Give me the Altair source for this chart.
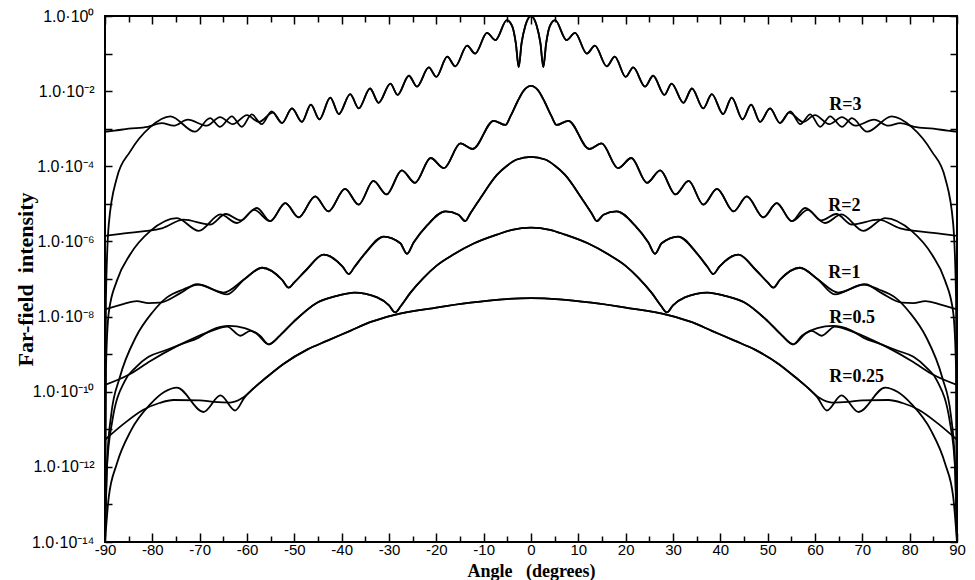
import altair as alt
import pandas as pd

# Values: (angle in degrees, log10 of far-field intensity)
# for the right half 0..90 deg; the figure is mirror-symmetric about 0 deg.
# "flat" = curve that levels off at +-90 deg, "cos" = curve that falls to zero at +-90 deg.
r3_core = [(0, 0.0), (1.2, -0.26), (2.0, -0.73), (2.6, -1.36), (3.2, -0.73), (4.0, -0.26),
           (5.1, -0.11), (7.5, -0.64), (9.3, -0.45), (11.8, -1.00), (13.5, -0.79), (16.0, -1.34),
           (17.7, -1.08), (20.0, -1.62), (21.6, -1.37), (24.1, -1.88), (25.8, -1.59), (28.2, -2.10),
           (29.7, -1.80), (32.2, -2.31), (34.0, -1.93), (36.4, -2.46), (38.2, -2.08), (40.6, -2.61),
           (42.4, -2.17), (44.7, -2.75), (46.5, -2.36), (48.4, -2.82), (50.5, -2.46), (52.6, -2.85)]
r3_flat_tail = [(54.5, -2.57), (57.5, -2.82), (60.0, -2.64), (63.0, -2.88), (65.7, -2.69),
                (68.5, -2.92), (72.5, -2.76), (75.5, -2.92), (78.0, -2.85), (81.0, -2.95),
                (85.0, -3.00), (88.0, -3.05), (90.0, -3.08)]
r3_cos_tail = [(54.8, -2.54), (56.9, -2.88), (59.0, -2.62), (61.1, -2.95), (63.2, -2.67),
               (65.7, -2.95), (67.8, -2.72), (71.0, -3.08), (76.2, -2.67), (80.4, -2.95),
               (84.7, -3.61), (87.5, -4.31), (89.2, -5.54), (89.8, -7.51), (90.0, -14.0)]

r2_core = [(0, -1.86), (1.5, -1.98), (2.9, -2.29), (4.3, -2.66), (5.4, -2.90), (7.9, -2.79),
           (12.3, -3.54), (14.9, -3.39), (18.4, -4.05), (21.2, -3.78), (24.5, -4.44), (27.3, -4.11),
           (30.5, -4.75), (33.3, -4.39), (36.4, -5.02), (39.3, -4.60), (42.8, -5.20), (45.6, -4.80),
           (49.1, -5.36), (51.9, -4.98), (55.1, -5.46)]
r2_flat_tail = [(58.5, -5.16), (61.3, -5.44), (64.5, -5.27), (67.8, -5.55), (73.4, -5.42),
                (78.0, -5.65), (81.1, -5.72), (85.0, -5.77), (90.0, -5.85)]
r2_cos_tail = [(57.9, -5.11), (62.1, -5.51), (65.6, -5.28), (70.2, -5.72), (74.8, -5.38),
               (80.4, -5.72), (84.7, -6.35), (87.5, -7.05), (89.2, -7.89), (89.8, -9.40), (90.0, -14.0)]

r1_core = [(0, -3.75), (3.0, -3.82), (5.0, -3.98), (7.2, -4.23), (10.7, -4.85), (12.8, -5.25),
           (13.9, -5.46), (15.3, -5.29), (18.1, -5.20), (22.0, -5.58), (24.8, -6.03), (26.2, -6.33),
           (27.6, -6.05), (31.1, -5.87), (35.0, -6.31), (37.3, -6.68), (38.5, -6.87), (39.8, -6.67),
           (43.8, -6.35), (47.5, -6.76), (50.0, -7.09), (51.2, -7.23), (52.6, -7.02), (56.8, -6.70),
           (60.5, -7.00)]
r1_flat_tail = [(64.9, -7.36), (70.6, -7.14), (74.0, -7.37), (78.4, -7.63), (80.8, -7.64),
                (83.3, -7.59), (86.0, -7.66), (90.0, -7.81)]
r1_cos_tail = [(64.2, -7.41), (70.2, -7.15), (73.5, -7.28), (76.9, -7.49), (80.0, -7.89),
               (83.5, -8.55), (86.9, -9.63), (88.7, -10.62), (89.5, -11.75), (90.0, -14.0)]

r05_core = [(0, -5.63), (4.0, -5.69), (7.2, -5.82), (12.0, -6.05), (16.4, -6.35), (20.0, -6.65),
            (22.7, -6.97), (25.5, -7.37), (27.5, -7.72), (28.7, -7.89), (30.0, -7.70), (32.5, -7.49),
            (37.3, -7.36), (41.0, -7.45), (45.2, -7.63), (50.0, -8.12), (53.0, -8.50), (55.4, -8.74)]
r05_flat_tail = [(57.3, -8.50), (59.3, -8.38), (61.4, -8.51), (64.2, -8.27), (67.5, -8.38),
                 (70.5, -8.53), (75.0, -8.80), (80.4, -9.18), (85.0, -9.55), (90.0, -9.82)]
r05_cos_tail = [(58.0, -8.45), (60.5, -8.31), (63.8, -8.25), (67.5, -8.36), (70.2, -8.56),
                (74.0, -8.74), (77.5, -8.91), (80.8, -9.07), (83.5, -9.35), (85.8, -9.71),
                (88.5, -10.81), (89.6, -12.03), (90.0, -14.0)]

r025_core = [(0, -7.51), (6.0, -7.54), (12.8, -7.63), (20.0, -7.76), (29.0, -7.96), (34.0, -8.15),
             (38.2, -8.38), (43.0, -8.64), (47.3, -8.88), (52.3, -9.26), (56.0, -9.63), (58.7, -9.92)]
r025_flat_tail = [(61.0, -10.17), (63.6, -10.29), (67.0, -10.27), (70.0, -10.23), (75.5, -10.22),
                  (78.5, -10.30), (81.9, -10.48), (86.0, -10.85), (90.0, -11.28)]
r025_cos_tail = [(60.5, -10.15), (62.5, -10.50), (65.6, -10.10), (69.2, -10.54), (74.8, -9.89),
                 (77.5, -10.01), (80.4, -10.33), (84.5, -11.03), (87.5, -11.92), (89.2, -12.80),
                 (90.0, -14.0)]

# curve labels (left edge of text at angle, vertical centre at log10 intensity)
label_text = ["R=3", "R=2", "R=1", "R=0.5", "R=0.25"]
label_angle = [63.0, 62.8, 62.8, 63.0, 63.0]
label_exp = [-2.37, -5.07, -6.83, -8.03, -9.62]

# axis ticks
x_major = list(range(-90, 91, 10))
x_minor = list(range(-85, 90, 10))
y_decades = [10.0 ** e for e in range(0, -15, -1)]
y_label_exps = list(range(0, -15, -2))

# ---------------------------------------------------------------------------
curve_specs = [
    ("R=3", r3_core, r3_flat_tail, r3_cos_tail),
    ("R=2", r2_core, r2_flat_tail, r2_cos_tail),
    ("R=1", r1_core, r1_flat_tail, r1_cos_tail),
    ("R=0.5", r05_core, r05_flat_tail, r05_cos_tail),
    ("R=0.25", r025_core, r025_flat_tail, r025_cos_tail),
]
rows = []
for name, core, flat, cosb in curve_specs:
    for variant, tail in (("flat", flat), ("cos", cosb)):
        half = core + tail
        pts = [(-a, e) for a, e in reversed(half) if a > 0] + half
        for i, (a, e) in enumerate(pts):
            rows.append({"curve": f"{name} {variant}", "angle": a,
                         "intensity": 10.0 ** e, "order": i})
df = pd.DataFrame(rows)

lab_df = pd.DataFrame({"text": label_text, "angle": label_angle,
                       "intensity": [10.0 ** e for e in label_exp]})

sup = str.maketrans("-0123456789", "⁻⁰¹²³⁴⁵⁶⁷⁸⁹")
parts = [f"round(log(datum.value)/LN10) == {e} ? '1.0·10{str(e).translate(sup)}'"
         for e in y_label_exps]
y_label_expr = " : ".join(parts) + " : ''"

W, H = 852, 526
xs = alt.Scale(domain=[-90, 90], nice=False, zero=False)
ys = alt.Scale(type="log", domain=[1e-14, 1], nice=False)

x_main_axis = alt.Axis(
    orient="bottom", values=x_major, ticks=False, domain=False, grid=False,
    labelExpr="'' + datum.value", labelFont="Liberation Sans",
    labelFontSize=15, labelColor="black", labelPadding=0, labelFlush=False,
    labelOverlap=False,
    title="Angle\u00a0\u00a0\u00a0(degrees)", titleFont="Liberation Serif", titleFontSize=18,
    titleFontWeight="bold", titleColor="black", titleX=W / 2, titleY=34,
    titleAlign="center", titleBaseline="alphabetic")

y_main_axis = alt.Axis(
    orient="left", values=y_decades, labelExpr=y_label_expr, ticks=False, domain=False,
    grid=False, labelFont="Liberation Sans", labelFontSize=16, labelColor="black",
    labelPadding=11, labelOverlap=False,
    title="Far-field\u00a0\u00a0intensity", titleFont="Liberation Serif", titleFontSize=22,
    titleFontWeight="bold", titleColor="black", titleAngle=270, titleX=-80, titleY=H / 2,
    titleAlign="center", titleBaseline="middle")

lines = alt.Chart(df).mark_line(
    color="black", strokeWidth=1.8, interpolate="monotone", clip=True
).encode(
    x=alt.X("angle:Q", scale=xs, axis=x_main_axis),
    y=alt.Y("intensity:Q", scale=ys, axis=y_main_axis),
    detail="curve:N",
    order="order:Q",
)

labels = alt.Chart(lab_df).mark_text(
    align="left", baseline="middle", font="Liberation Serif", fontWeight="bold",
    fontSize=18, color="black"
).encode(
    x=alt.X("angle:Q", scale=xs, axis=None),
    y=alt.Y("intensity:Q", scale=ys, axis=None),
    text="text:N",
)


def x_tick_layer(orient, vals, size):
    return alt.Chart(lab_df).mark_point(opacity=0).encode(
        x=alt.X("angle:Q", scale=xs, axis=alt.Axis(
            orient=orient, values=vals, ticks=True, tickSize=size, offset=-size,
            tickColor="black", tickWidth=1.5, labels=False, domain=False, grid=False,
            title=None)),
        y=alt.Y("intensity:Q", scale=ys, axis=None),
    )


def y_tick_layer(orient, vals, size):
    return alt.Chart(lab_df).mark_point(opacity=0).encode(
        x=alt.X("angle:Q", scale=xs, axis=None),
        y=alt.Y("intensity:Q", scale=ys, axis=alt.Axis(
            orient=orient, values=vals, ticks=True, tickSize=size, offset=-size,
            tickColor="black", tickWidth=1.5, labels=False, domain=False, grid=False,
            title=None)),
    )


chart = alt.layer(
    lines, labels,
    x_tick_layer("bottom", x_major, 9), x_tick_layer("bottom", x_minor, 6),
    x_tick_layer("top", x_major, 8), x_tick_layer("top", x_minor, 6),
    y_tick_layer("left", y_decades, 7), y_tick_layer("right", y_decades, 7),
).resolve_axis(
    x="independent", y="independent"
).properties(
    width=W, height=H,
    autosize=alt.AutoSizeParams(type="none"),
    padding={"left": 97, "top": 8, "right": 10, "bottom": 38},
    background="white",
).configure_view(
    stroke="black", strokeWidth=2
)

chart.save("out.html", embed_options={"renderer": "svg", "actions": False})
